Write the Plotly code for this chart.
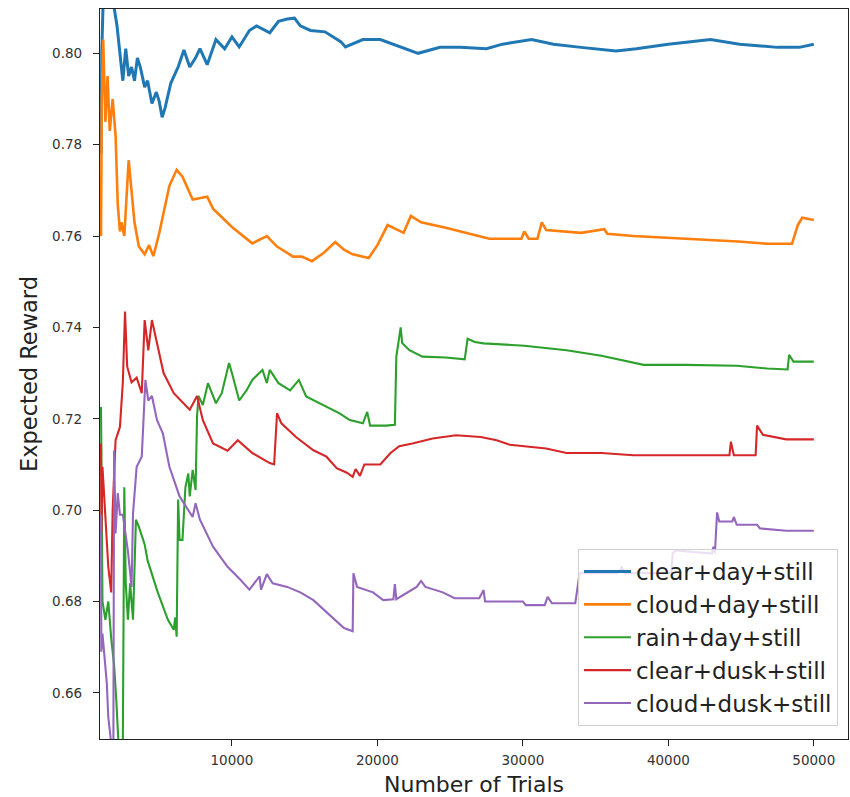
import plotly.graph_objects as go

# ---- data ----
labels = ["clear+day+still", "cloud+day+still", "rain+day+still", "clear+dusk+still", "cloud+dusk+still"]
colors = ["#1f77b4", "#ff7f0e", "#2ca02c", "#d62728", "#9467bd"]

blue_x = [1000, 1050, 1150, 1400, 1800, 2100, 2300, 2500, 2700, 2900, 3100, 3300, 3500, 3700, 4000, 4200, 4500, 4800, 5000, 5200, 5400, 5800, 6300, 6700, 7100, 7500, 7800, 8300, 8900, 9500, 10000, 10500, 11200, 11700, 12600, 13200, 13800, 14300, 14700, 15400, 16400, 17500, 17800, 19000, 20200, 21400, 22800, 24300, 25700, 27500, 28600, 30600, 32100, 34000, 36400, 37800, 40000, 42900, 44900, 47500, 49000, 50000]
blue_y = [0.778, 0.800, 0.812, 0.815, 0.812, 0.806, 0.800, 0.794, 0.801, 0.795, 0.797, 0.794, 0.799, 0.797, 0.7926, 0.794, 0.789, 0.7915, 0.7895, 0.786, 0.788, 0.7935, 0.797, 0.8007, 0.797, 0.799, 0.801, 0.7975, 0.803, 0.801, 0.8036, 0.8014, 0.805, 0.806, 0.8045, 0.807, 0.8075, 0.8077, 0.806, 0.805, 0.8047, 0.8025, 0.8014, 0.803, 0.803, 0.8016, 0.800, 0.8013, 0.8013, 0.801, 0.802, 0.803, 0.802, 0.8013, 0.8005, 0.801, 0.802, 0.803, 0.802, 0.8013, 0.8013, 0.802]

orange_x = [1000, 1050, 1150, 1300, 1450, 1600, 1800, 2000, 2150, 2300, 2400, 2600, 2900, 3050, 3300, 3600, 4000, 4300, 4600, 5000, 5300, 5700, 6200, 6600, 7300, 8300, 8700, 10000, 11400, 12400, 13100, 14200, 14800, 15500, 16300, 17100, 17700, 18300, 19400, 20000, 20700, 21800, 22300, 23000, 24700, 26000, 27700, 29900, 30100, 30400, 31000, 31300, 31600, 34000, 35600, 35800, 37600, 41200, 44800, 46800, 48500, 48900, 49200, 50000]
orange_y = [0.760, 0.790, 0.803, 0.785, 0.795, 0.783, 0.790, 0.782, 0.767, 0.761, 0.763, 0.760, 0.7766, 0.771, 0.763, 0.7577, 0.756, 0.758, 0.7556, 0.7606, 0.765, 0.771, 0.7745, 0.773, 0.768, 0.7686, 0.766, 0.762, 0.7584, 0.760, 0.7577, 0.7555, 0.7555, 0.7545, 0.7563, 0.7587, 0.757, 0.756, 0.7552, 0.758, 0.7624, 0.7607, 0.7644, 0.763, 0.7618, 0.7607, 0.7594, 0.7594, 0.761, 0.7594, 0.7594, 0.763, 0.7613, 0.7607, 0.7615, 0.7605, 0.760, 0.7594, 0.7588, 0.7583, 0.7583, 0.7624, 0.764, 0.7635]

green_x = [1000, 1050, 1100, 1300, 1500, 1700, 1900, 2050, 2200, 2500, 2600, 2700, 2850, 3000, 3200, 3400, 3600, 4000, 4200, 4900, 5300, 5600, 6000, 6100, 6200, 6300, 6400, 6600, 6800, 7000, 7100, 7300, 7500, 7600, 7700, 8000, 8350, 8900, 9300, 9800, 10000, 10500, 11000, 11400, 12100, 12400, 12600, 13200, 14000, 14600, 15100, 16500, 17400, 18100, 19000, 19300, 19500, 20600, 21200, 21300, 21600, 21700, 22200, 23100, 24700, 26000, 26200, 26700, 27300, 30100, 31500, 33000, 35400, 36800, 38300, 41200, 44700, 46800, 47800, 48200, 48300, 48600, 50000]
green_y = [0.7226, 0.700, 0.680, 0.676, 0.680, 0.672, 0.666, 0.6585, 0.649, 0.649, 0.705, 0.684, 0.676, 0.684, 0.676, 0.6979, 0.6964, 0.6925, 0.689, 0.682, 0.6785, 0.676, 0.6738, 0.6765, 0.6723, 0.7023, 0.6935, 0.6935, 0.705, 0.708, 0.703, 0.7088, 0.7044, 0.7205, 0.725, 0.723, 0.7278, 0.7234, 0.7256, 0.7322, 0.730, 0.724, 0.7262, 0.7285, 0.7307, 0.7278, 0.7307, 0.7278, 0.7262, 0.7285, 0.7249, 0.7227, 0.7212, 0.7197, 0.719, 0.7215, 0.7185, 0.7185, 0.7187, 0.7336, 0.740, 0.7366, 0.735, 0.7336, 0.7334, 0.733, 0.7375, 0.7368, 0.7365, 0.736, 0.7355, 0.735, 0.7338, 0.7328, 0.7318, 0.7318, 0.7316, 0.731, 0.7308, 0.7308, 0.734, 0.7325, 0.7325]

red_x = [1000, 1030, 1100, 1300, 1500, 1700, 1800, 2000, 2300, 2500, 2650, 2800, 3100, 3450, 3800, 4000, 4250, 4500, 4850, 5300, 6000, 6700, 7100, 7600, 8000, 8700, 9700, 10400, 11400, 12600, 12900, 13100, 13400, 14400, 15600, 16500, 17200, 17900, 18300, 18500, 18800, 19100, 20200, 20900, 21500, 22400, 23800, 25400, 27100, 28200, 29100, 31600, 33000, 35400, 37600, 41200, 44200, 44300, 44500, 46000, 46100, 46500, 48100, 50000]
red_y = [0.7146, 0.695, 0.7095, 0.6993, 0.6876, 0.682, 0.700, 0.7153, 0.7182, 0.728, 0.7435, 0.7314, 0.728, 0.729, 0.7256, 0.7416, 0.735, 0.7416, 0.7366, 0.730, 0.7256, 0.7234, 0.722, 0.725, 0.7197, 0.7146, 0.713, 0.7153, 0.7125, 0.7103, 0.710, 0.7212, 0.719, 0.716, 0.7131, 0.7117, 0.7092, 0.7082, 0.7073, 0.709, 0.7075, 0.710, 0.710, 0.7125, 0.714, 0.7146, 0.7157, 0.7164, 0.716, 0.7153, 0.7143, 0.7135, 0.7125, 0.7125, 0.712, 0.712, 0.712, 0.715, 0.712, 0.712, 0.7185, 0.7165, 0.7155, 0.7155]

purple_x = [1000, 1020, 1100, 1200, 1300, 1400, 1500, 1700, 1850, 1900, 2000, 2150, 2300, 2500, 2850, 3100, 3200, 3450, 3800, 4050, 4250, 4500, 4850, 5250, 5700, 6400, 7300, 7500, 7800, 8700, 9700, 10600, 11200, 11900, 12000, 12400, 12800, 13800, 14700, 15600, 16500, 17200, 17700, 18300, 18350, 18600, 19700, 20400, 21100, 21200, 21300, 22700, 23000, 23300, 24500, 25300, 27000, 27300, 27400, 30000, 30200, 31500, 31700, 32000, 33600, 33900, 36500, 36800, 37000, 40200, 40300, 40500, 43000, 43100, 43200, 43350, 43500, 44400, 44500, 44700, 46100, 46300, 48100, 50000]
purple_y = [0.699, 0.669, 0.673, 0.6685, 0.6657, 0.662, 0.6547, 0.649, 0.649, 0.7131, 0.6949, 0.7037, 0.699, 0.699, 0.691, 0.6832, 0.6993, 0.7095, 0.7117, 0.7285, 0.724, 0.725, 0.7197, 0.7168, 0.7095, 0.703, 0.6985, 0.7015, 0.6979, 0.692, 0.6876, 0.6847, 0.6826, 0.6855, 0.6826, 0.686, 0.684, 0.6832, 0.682, 0.6803, 0.6777, 0.6756, 0.6742, 0.6735, 0.6862, 0.6832, 0.682, 0.6803, 0.6805, 0.6838, 0.6805, 0.6832, 0.6845, 0.6832, 0.682, 0.6807, 0.6807, 0.6825, 0.680, 0.680, 0.6792, 0.6792, 0.681, 0.6796, 0.6796, 0.6862, 0.6862, 0.6875, 0.6862, 0.6862, 0.6905, 0.6912, 0.6905, 0.692, 0.6905, 0.6995, 0.6975, 0.6975, 0.6985, 0.6968, 0.6968, 0.696, 0.6955, 0.6955]

x_ticks = [10000, 20000, 30000, 40000, 50000]
y_ticks = [0.66, 0.68, 0.70, 0.72, 0.74, 0.76, 0.78, 0.80]
x_title = "Number of Trials"
y_title = "Expected Reward"

series = [(blue_x, blue_y), (orange_x, orange_y), (green_x, green_y), (red_x, red_y), (purple_x, purple_y)]
widths = [3.0, 2.6, 2.1, 2.1, 2.1]

fig = go.Figure()
for (xs, ys), name, c, w in zip(series, labels, colors, widths):
    fig.add_trace(go.Scatter(x=xs, y=ys, mode="lines", name=name, legendgroup=name,
                             line=dict(color=c, width=w)))

font_family = "DejaVu Sans"
fig.update_layout(
    width=850, height=797,
    margin=dict(l=100, r=2, t=9, b=58, autoexpand=False),
    paper_bgcolor="white", plot_bgcolor="white",
    font=dict(family=font_family, color="#222"),
    showlegend=True,
    legend=dict(x=0.9866, y=0.0178, xanchor="right", yanchor="bottom",
                bgcolor="rgba(255,255,255,0.8)", bordercolor="#d0d0d0", borderwidth=1,
                font=dict(size=23, color="#222"), tracegroupgap=0, itemwidth=47,
                traceorder="grouped"),
    xaxis=dict(range=[930, 52350], tickvals=x_ticks, ticktext=[str(v) for v in x_ticks],
               ticks="outside", ticklen=6, tickcolor="#222", tickfont=dict(size=13.5, color="#333"),
               ticklabelstandoff=3, automargin=False,
               showgrid=False, zeroline=False, showline=True, linecolor="#222", linewidth=1.3, mirror=True),
    yaxis=dict(range=[0.6499, 0.8097], tickvals=y_ticks, ticktext=["%.2f" % v for v in y_ticks],
               ticks="outside", ticklen=6, tickcolor="#222", tickfont=dict(size=13.5, color="#333"),
               ticklabelstandoff=8, automargin=False,
               showgrid=False, zeroline=False, showline=True, linecolor="#222", linewidth=1.3, mirror=True,
               title=dict(text=y_title, font=dict(size=22.5, color="#222"), standoff=8)),
    annotations=[dict(text=x_title, x=0.5, y=0, xref="paper", yref="paper",
                      xanchor="center", yanchor="middle", yshift=-45, showarrow=False,
                      borderpad=0, font=dict(size=22, color="#222"))],
)

fig.write_html("out.html", config={"displayModeBar": False},
               post_script="document.body.style.margin='0';document.body.style.padding='0';")
